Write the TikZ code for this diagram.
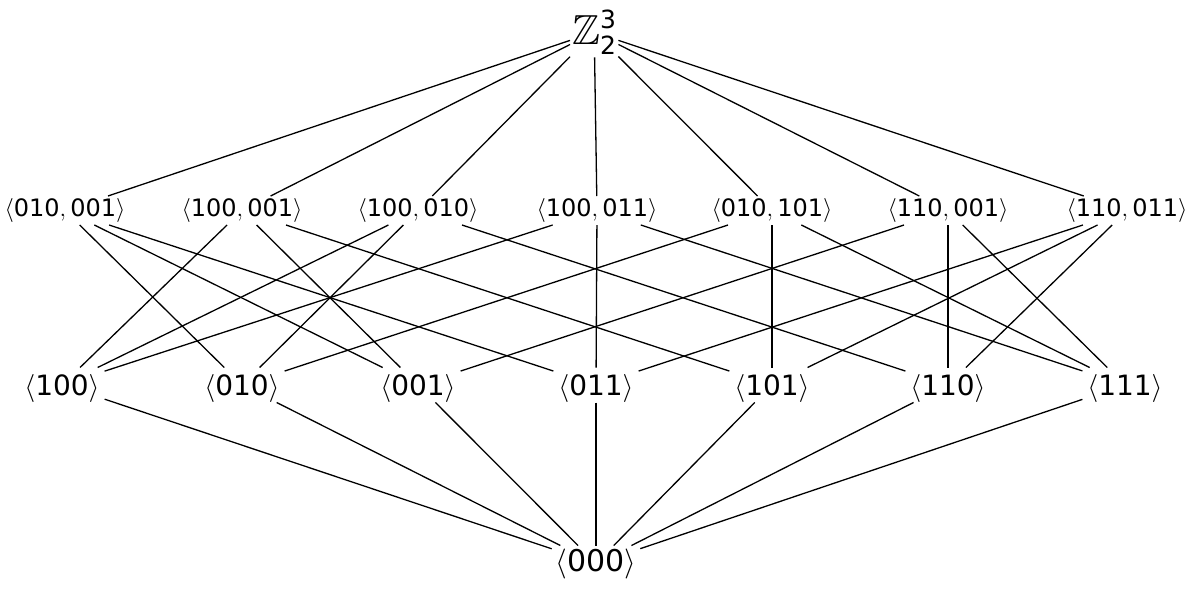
\RequirePackage{fix-cm}
\documentclass[tikz,border=0pt]{standalone}
\usepackage{amsmath}
\usepackage{amssymb}
\usepackage{fontspec}
\setsansfont{DejaVu Sans}
\DeclareMathSizes{42}{42}{25}{18}
\DeclareMathSizes{24}{24}{17}{12}
\DeclareMathSizes{28}{28}{20}{14}
\DeclareMathSizes{30}{30}{21}{15}
\newcommand\dg[1]{\textsf{#1}}
\newcommand\sg[1]{\ensuremath{\langle #1\rangle}}
\begin{document}
\begin{tikzpicture}[x=1pt,y=-1pt,
  every node/.style={outer sep=0pt},
  topn/.style={anchor=base west, inner xsep=2pt, inner ysep=3pt, font=\fontsize{42}{46}\selectfont},
  rtwo/.style={inner xsep=4pt, inner ysep=2.5pt, font=\fontsize{24}{28}\selectfont},
  rthree/.style={anchor=base, text height=27pt, text depth=6pt, inner xsep=5pt, inner ysep=1pt, font=\fontsize{28}{32}\selectfont},
  botn/.style={inner xsep=4pt, inner ysep=3pt, font=\fontsize{30}{34}\selectfont},
  edge/.style={line width=1.3pt}]
\useasboundingbox (0,0) rectangle (1200,592);
\node[topn] (T) at (570,44) {$\mathbb{Z}_{\dg{2}}^{\dg{3}}$\hspace{8pt}};
\node[rtwo] (a1) at (65,210.5) {\sg{\dg{010},\dg{001}}};
\node[rtwo] (a2) at (242,210.5) {\sg{\dg{100},\dg{001}}};
\node[rtwo] (a3) at (418,210.5) {\sg{\dg{100},\dg{010}}};
\node[rtwo] (a4) at (597,210.5) {\sg{\dg{100},\dg{011}}};
\node[rtwo] (a5) at (772,210.5) {\sg{\dg{010},\dg{101}}};
\node[rtwo] (a6) at (948,210.5) {\sg{\dg{110},\dg{001}}};
\node[rtwo] (a7) at (1127,210.5) {\sg{\dg{110},\dg{011}}};
\node[rthree] (b100) at (62,395.5) {\sg{\dg{100}}};
\node[rthree] (b010) at (242,395.5) {\sg{\dg{010}}};
\node[rthree] (b001) at (418,395.5) {\sg{\dg{001}}};
\node[rthree] (b011) at (596,395.5) {\sg{\dg{011}}};
\node[rthree] (b101) at (772,395.5) {\sg{\dg{101}}};
\node[rthree] (b110) at (948,395.5) {\sg{\dg{110}}};
\node[rthree] (b111) at (1125,395.5) {\sg{\dg{111}}};
\node[botn] (Z) at (596,563.5) {\sg{\dg{000}}};
\foreach \n in {a1,a2,a3,a4,a5,a6,a7} \draw[edge] (T) -- (\n);
\foreach \n in {b100,b010,b001,b011,b101,b110,b111} \draw[edge] (\n) -- (Z);
\foreach \s/\t in {a1/b010,a1/b001,a1/b011,
                   a2/b100,a2/b001,a2/b101,
                   a3/b100,a3/b010,a3/b110,
                   a4/b100,a4/b011,a4/b111,
                   a5/b010,a5/b101,a5/b111,
                   a6/b110,a6/b001,a6/b111,
                   a7/b110,a7/b011,a7/b101}
  \draw[edge] (\s) -- (\t);
\end{tikzpicture}
\end{document}
